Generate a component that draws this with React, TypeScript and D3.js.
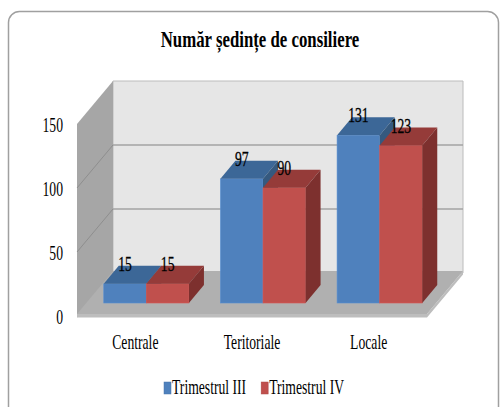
import React, { useEffect, useRef } from 'react';
import * as d3 from 'd3';

const categories = ['Centrale', 'Teritoriale', 'Locale'];
const seriesNames = ['Trimestrul III', 'Trimestrul IV'];
const trimIII = [15, 97, 131];
const trimIV = [15, 90, 123];
const yTicks = [0, 50, 100, 150];

const colors = [
    { front: '#4f81bd', top: '#3c6797', side: '#35597f' },
    { front: '#c0504d', top: '#953b39', side: '#7d302e' },
];

export default function App() {
    const ref = useRef<SVGSVGElement | null>(null);

    useEffect(() => {
        const svg = d3.select(ref.current);
        svg.selectAll('*').remove();

        const sx = 0.65; // the picture's text is squeezed horizontally
        const font = '"Liberation Serif", "Times New Roman", serif';

        // chart frame
        svg.append('rect')
            .attr('x', 8.5).attr('y', 11.5)
            .attr('width', 490).attr('height', 430)
            .attr('rx', 11)
            .attr('fill', '#fff')
            .attr('stroke', '#a0a0a0')
            .attr('stroke-width', 1.5);

        // title
        svg.append('text')
            .attr('transform', `translate(260,47) scale(0.7,1)`)
            .attr('text-anchor', 'middle')
            .attr('font-family', font)
            .attr('font-weight', 'bold')
            .attr('font-size', 24)
            .attr('fill', '#000')
            .text('Număr ședințe de consiliere');

        // scales on the front plane
        const x = d3.scaleBand()
            .domain(categories)
            .range([77, 427])
            .paddingInner(0.27)
            .paddingOuter(0.135);
        const x1 = d3.scaleBand()
            .domain(seriesNames)
            .range([0, x.bandwidth()]);
        const y = d3.scaleLinear().domain([0, 150]).range([316, 124]);

        const depth = { dx: 36, dy: -43 };  // wall depth
        const barOff = { dx: 11, dy: -13 }; // bars' front face offset
        const barDepth = { dx: 15, dy: -18 };

        const x0 = x.range()[0];
        const xEnd = x.range()[1];
        const y0 = y(0);
        const yTop = y(150);

        const pts = (p: number[][]) => p.map(d => d.join(',')).join(' ');

        // back wall
        svg.append('polygon')
            .attr('points', pts([
                [x0 + depth.dx, yTop + depth.dy],
                [xEnd + depth.dx, yTop + depth.dy],
                [xEnd + depth.dx, y0 + depth.dy],
                [x0 + depth.dx, y0 + depth.dy],
            ]))
            .attr('fill', '#e6e6e6')
            .attr('stroke', '#bcbcbc')
            .attr('stroke-width', 1);

        // left side wall
        svg.append('polygon')
            .attr('points', pts([
                [x0, yTop],
                [x0 + depth.dx, yTop + depth.dy],
                [x0 + depth.dx, y0 + depth.dy],
                [x0, y0 + 1.5],
            ]))
            .attr('fill', '#a6a6a6');

        // gridlines
        yTicks.filter(t => t > 0 && t < 150).forEach(t => {
            svg.append('line')
                .attr('x1', x0 + depth.dx).attr('x2', xEnd + depth.dx)
                .attr('y1', y(t) + depth.dy).attr('y2', y(t) + depth.dy)
                .attr('stroke', '#a3a3a3').attr('stroke-width', 1.3);
            svg.append('line')
                .attr('x1', x0).attr('x2', x0 + depth.dx)
                .attr('y1', y(t)).attr('y2', y(t) + depth.dy)
                .attr('stroke', '#8e8e8e').attr('stroke-width', 1);
        });

        // floor (thin slab)
        const th = 3.5;
        svg.append('polygon')
            .attr('points', pts([
                [x0, y0 - 2 + th],
                [xEnd, y0 - 2 + th],
                [xEnd + depth.dx, y0 - 2 + th + depth.dy],
                [xEnd + depth.dx, y0 - 2 + depth.dy],
                [xEnd, y0 - 2],
                [x0, y0 - 2],
            ]))
            .attr('fill', '#bdbdbd');
        svg.append('polygon')
            .attr('points', pts([
                [x0, y0 - 2],
                [xEnd, y0 - 2],
                [xEnd + depth.dx, y0 - 2 + depth.dy],
                [x0 + depth.dx, y0 - 2 + depth.dy],
            ]))
            .attr('fill', '#b0b0b0');

        // y axis labels
        yTicks.forEach(t => {
            svg.append('text')
                .attr('transform', `translate(63,${y(t) + 7.5}) scale(${sx},1)`)
                .attr('text-anchor', 'end')
                .attr('font-family', font)
                .attr('font-size', 21)
                .attr('fill', '#000')
                .text(t);
        });

        // bars
        const values = [trimIII, trimIV];
        categories.forEach((cat, ci) => {
            seriesNames.forEach((s, si) => {
                const v = values[si][ci];
                const c = colors[si];
                const bx = (x(cat) as number) + (x1(s) as number) + barOff.dx;
                const bw = x1.bandwidth();
                const yt = y(v) + barOff.dy;
                const yb = y0 + barOff.dy;

                svg.append('rect')
                    .attr('x', bx).attr('y', yt)
                    .attr('width', bw).attr('height', yb - yt)
                    .attr('fill', c.front)
                    .attr('stroke', d3.color(c.front)!.brighter(0.3).toString())
                    .attr('stroke-width', 0.6);
                svg.append('polygon')
                    .attr('points', pts([
                        [bx, yt], [bx + bw, yt],
                        [bx + bw + barDepth.dx, yt + barDepth.dy],
                        [bx + barDepth.dx, yt + barDepth.dy],
                    ]))
                    .attr('fill', c.top);
                svg.append('polygon')
                    .attr('points', pts([
                        [bx + bw, yt],
                        [bx + bw + barDepth.dx, yt + barDepth.dy],
                        [bx + bw + barDepth.dx, yb + barDepth.dy],
                        [bx + bw, yb],
                    ]))
                    .attr('fill', c.side);
            });
        });

        // data labels drawn after all bars
        categories.forEach((cat, ci) => {
            seriesNames.forEach((s, si) => {
                const v = values[si][ci];
                const cx = (x(cat) as number) + (x1(s) as number) + barOff.dx + x1.bandwidth() / 2;
                svg.append('text')
                    .attr('transform', `translate(${cx},${y(v) - 26}) scale(${sx},1)`)
                    .attr('text-anchor', 'middle')
                    .attr('font-family', font)
                    .attr('font-size', 21)
                    .attr('fill', '#000')
                    .attr('stroke', '#000')
                    .attr('stroke-width', 0.3)
                    .text(v);
            });
        });

        // category labels
        categories.forEach(cat => {
            svg.append('text')
                .attr('transform', `translate(${(x(cat) as number) + x.bandwidth() / 2},349) scale(${sx},1)`)
                .attr('text-anchor', 'middle')
                .attr('font-family', font)
                .attr('font-size', 21)
                .attr('fill', '#000')
                .text(cat);
        });

        // legend
        let lx = 164;
        seriesNames.forEach((s, si) => {
            svg.append('rect')
                .attr('x', lx).attr('y', 382)
                .attr('width', 7).attr('height', 12)
                .attr('fill', colors[si].front)
                .attr('stroke', d3.color(colors[si].front)!.darker(0.3).toString())
                .attr('stroke-width', 0.5);
            const t = svg.append('text')
                .attr('transform', `translate(${lx + 8},394) scale(${sx},1)`)
                .attr('font-family', font)
                .attr('font-size', 21)
                .attr('fill', '#000')
                .text(s);
            const w = (t.node() as SVGTextElement).getComputedTextLength() * sx;
            lx += 8 + w + 15;
        });
    }, []);

    return (
        <svg
            ref={ref}
            width={500}
            height={407}
            style={{ position: 'absolute', left: 0, top: 0, background: '#fff' }}
        />
    );
}
